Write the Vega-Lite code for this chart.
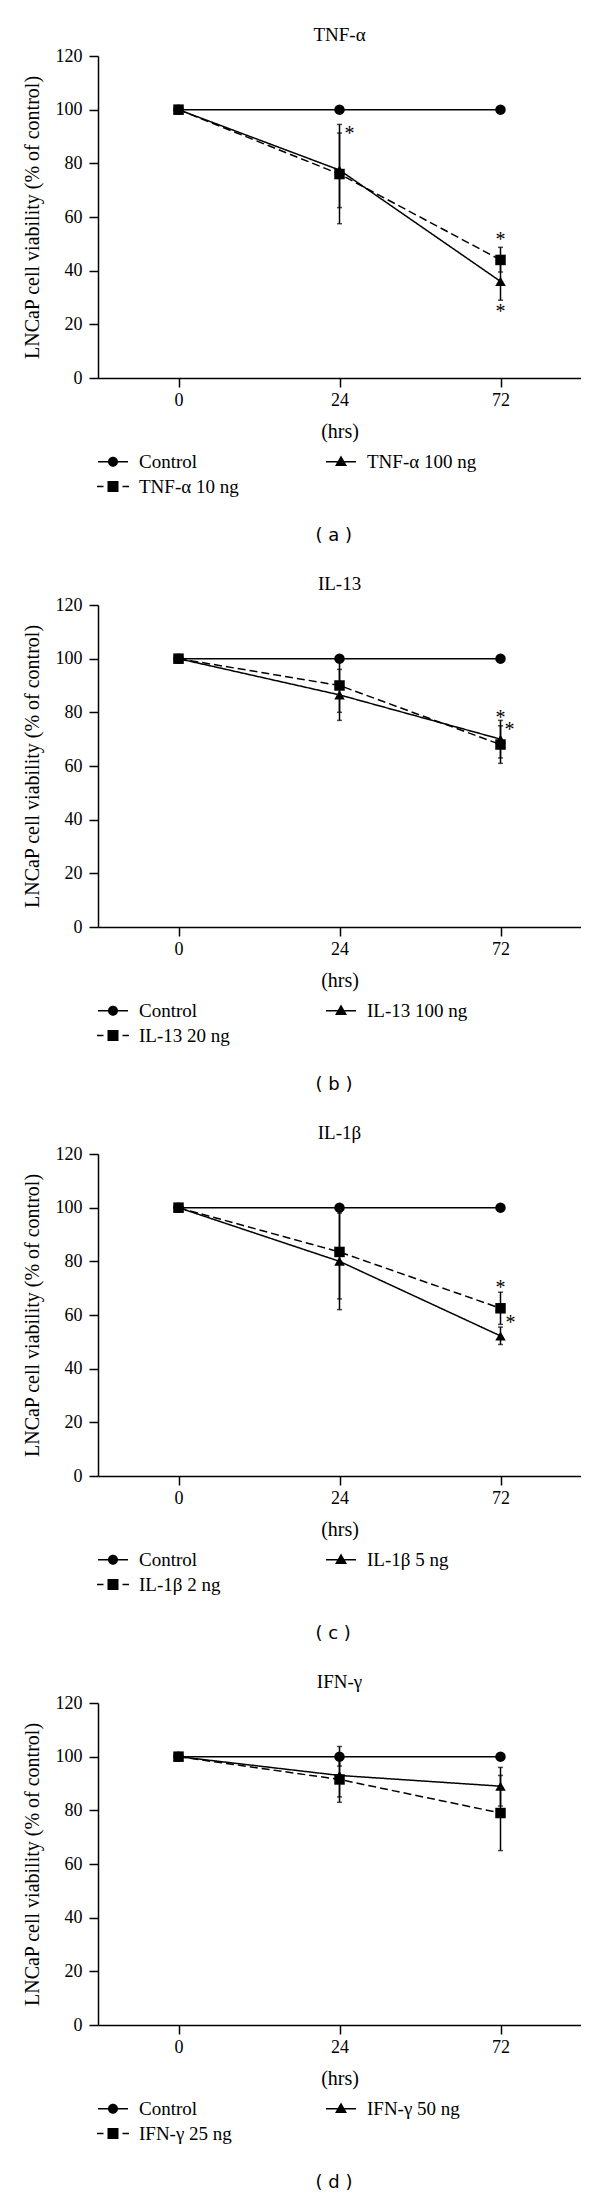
{
  "$schema": "https://vega.github.io/schema/vega-lite/v6.json",
  "background": "white",
  "padding": {"left": 22, "top": 26, "right": 0, "bottom": 0},
  "datasets": {
    "pts": [
      {"panel": "a", "time": "0", "series": "Control", "mean": 100},
      {"panel": "a", "time": "24", "series": "Control", "mean": 100},
      {"panel": "a", "time": "72", "series": "Control", "mean": 100},
      {"panel": "a", "time": "0", "series": "TNF-α 10 ng", "mean": 100},
      {"panel": "a", "time": "24", "series": "TNF-α 10 ng", "mean": 76, "lo": 57.5, "hi": 94.5},
      {"panel": "a", "time": "72", "series": "TNF-α 10 ng", "mean": 44, "lo": 39.5, "hi": 48.7},
      {"panel": "a", "time": "0", "series": "TNF-α 100 ng", "mean": 100},
      {"panel": "a", "time": "24", "series": "TNF-α 100 ng", "mean": 77.5, "lo": 63.5, "hi": 91.3},
      {"panel": "a", "time": "72", "series": "TNF-α 100 ng", "mean": 36, "lo": 29, "hi": 43},
      {"panel": "b", "time": "0", "series": "Control", "mean": 100},
      {"panel": "b", "time": "24", "series": "Control", "mean": 100},
      {"panel": "b", "time": "72", "series": "Control", "mean": 100},
      {"panel": "b", "time": "0", "series": "IL-13 20 ng", "mean": 100},
      {"panel": "b", "time": "24", "series": "IL-13 20 ng", "mean": 90, "lo": 80, "hi": 100},
      {"panel": "b", "time": "72", "series": "IL-13 20 ng", "mean": 68, "lo": 61, "hi": 75},
      {"panel": "b", "time": "0", "series": "IL-13 100 ng", "mean": 100},
      {"panel": "b", "time": "24", "series": "IL-13 100 ng", "mean": 86.5, "lo": 77, "hi": 96},
      {"panel": "b", "time": "72", "series": "IL-13 100 ng", "mean": 70, "lo": 63, "hi": 77},
      {"panel": "c", "time": "0", "series": "Control", "mean": 100},
      {"panel": "c", "time": "24", "series": "Control", "mean": 100},
      {"panel": "c", "time": "72", "series": "Control", "mean": 100},
      {"panel": "c", "time": "0", "series": "IL-1β 2 ng", "mean": 100},
      {"panel": "c", "time": "24", "series": "IL-1β 2 ng", "mean": 83.5, "lo": 66, "hi": 101},
      {"panel": "c", "time": "72", "series": "IL-1β 2 ng", "mean": 62.5, "lo": 56.5, "hi": 68.5},
      {"panel": "c", "time": "0", "series": "IL-1β 5 ng", "mean": 100},
      {"panel": "c", "time": "24", "series": "IL-1β 5 ng", "mean": 80, "lo": 62, "hi": 98},
      {"panel": "c", "time": "72", "series": "IL-1β 5 ng", "mean": 52.2, "lo": 49, "hi": 55.5},
      {"panel": "d", "time": "0", "series": "Control", "mean": 100},
      {"panel": "d", "time": "24", "series": "Control", "mean": 100, "lo": 96.5, "hi": 103.8},
      {"panel": "d", "time": "72", "series": "Control", "mean": 100},
      {"panel": "d", "time": "0", "series": "IFN-γ 25 ng", "mean": 100},
      {"panel": "d", "time": "24", "series": "IFN-γ 25 ng", "mean": 91.5, "lo": 83, "hi": 100},
      {"panel": "d", "time": "72", "series": "IFN-γ 25 ng", "mean": 79, "lo": 65, "hi": 93},
      {"panel": "d", "time": "0", "series": "IFN-γ 50 ng", "mean": 100},
      {"panel": "d", "time": "24", "series": "IFN-γ 50 ng", "mean": 93, "lo": 85, "hi": 101},
      {"panel": "d", "time": "72", "series": "IFN-γ 50 ng", "mean": 89, "lo": 81.6, "hi": 96}
    ],
    "stars": [
      {"panel": "a", "time": "24", "series": "TNF-α 10 ng", "value": 92.5},
      {"panel": "a", "time": "72", "series": "TNF-α 10 ng", "value": 53},
      {"panel": "a", "time": "72", "series": "TNF-α 100 ng", "value": 26},
      {"panel": "b", "time": "72", "series": "IL-13 20 ng", "value": 79.5},
      {"panel": "b", "time": "72", "series": "IL-13 100 ng", "value": 75},
      {"panel": "c", "time": "72", "series": "IL-1β 2 ng", "value": 71.5},
      {"panel": "c", "time": "72", "series": "IL-1β 5 ng", "value": 58.5}
    ]
  },
  "config": {
    "view": {"stroke": null},
    "font": "Liberation Serif",
    "title": {"font": "Liberation Serif", "fontSize": 19, "fontWeight": "normal", "color": "black"},
    "axis": {
      "domainColor": "black", "domainWidth": 1.5, "tickColor": "black", "tickWidth": 1.5, "tickSize": 9,
      "labelColor": "black", "labelFont": "Liberation Serif", "labelFontSize": 18,
      "titleColor": "black", "titleFont": "Liberation Serif", "titleFontSize": 20, "titleFontWeight": "normal",
      "grid": false
    },
    "legend": {"labelFont": "Liberation Serif", "labelFontSize": 19, "labelColor": "black",
      "symbolStrokeColor": "black", "symbolFillColor": "black", "symbolStrokeWidth": 1.5, "symbolOpacity": 1, "symbolSize": 100}
  },
  "spacing": 30,
  "resolve": {"scale": {"shape": "independent", "strokeDash": "independent"}, "legend": {"shape": "independent", "strokeDash": "independent"}},
  "vconcat": [
    {
      "title": {"text": "( a )", "orient": "bottom", "anchor": "middle", "align": "left", "dx": 14, "font": "DejaVu Sans", "fontSize": 18, "offset": 30},
      "resolve": {"scale": {"shape": "independent", "strokeDash": "independent"}, "legend": {"shape": "independent", "strokeDash": "independent"}},
      "vconcat": [
        {
          "width": 483, "height": 322,
          "title": {"text": "TNF-α", "frame": "group", "offset": 2},
          "data": {"name": "pts"},
          "transform": [{"filter": "datum.panel == 'a'"}],
          "encoding": {
            "x": {"field": "time", "type": "ordinal", "sort": ["0", "24", "72"], "scale": {"type": "point", "padding": 0.5},
              "axis": {"title": "(hrs)", "labelAngle": 0, "labelPadding": 4, "titlePadding": 12}}
          },
          "resolve": {"scale": {"shape": "independent"}, "legend": {"shape": "independent"}},
          "layer": [
            {"transform": [{"filter": "isValid(datum.lo)"}], "mark": {"type": "rule", "color": "black", "strokeWidth": 1.5},
              "encoding": {"y": {"field": "lo", "type": "quantitative", "scale": {"domain": [0, 120]}, "title": "LNCaP cell viability (% of  control)",
                "axis": {"values": [0, 20, 40, 60, 80, 100, 120], "labelPadding": 7, "titlePadding": 13}}, "y2": {"field": "hi"}}},
            {"transform": [{"filter": "isValid(datum.lo)"}], "mark": {"type": "tick", "color": "black", "size": 5, "thickness": 1.5},
              "encoding": {"y": {"field": "lo", "type": "quantitative", "title": "LNCaP cell viability (% of  control)"}}},
            {"transform": [{"filter": "isValid(datum.hi)"}], "mark": {"type": "tick", "color": "black", "size": 5, "thickness": 1.5},
              "encoding": {"y": {"field": "hi", "type": "quantitative", "title": "LNCaP cell viability (% of  control)"}}},
            {"mark": {"type": "line", "color": "black", "strokeWidth": 1.5},
              "encoding": {"y": {"field": "mean", "type": "quantitative", "title": "LNCaP cell viability (% of  control)"},
                "strokeDash": {"field": "series", "type": "nominal", "scale": {"domain": ["TNF-α 100 ng", "TNF-α 10 ng", "Control"], "range": [[1, 0], [8, 4], [1, 0]]}, "legend": null}}},
            {"mark": {"type": "point", "filled": true, "color": "black", "opacity": 1, "size": 110},
              "encoding": {"y": {"field": "mean", "type": "quantitative", "title": "LNCaP cell viability (% of  control)"},
                "shape": {"field": "series", "type": "nominal", "scale": {"domain": ["TNF-α 10 ng", "Control", "TNF-α 100 ng"], "range": ["square", "circle", "triangle-up"]}, "legend": null}}},
            {"transform": [{"filter": "false"}], "mark": {"type": "point", "filled": true, "fill": "black", "stroke": "black", "strokeWidth": 1.5, "opacity": 1, "size": 100},
              "encoding": {"y": {"field": "mean", "type": "quantitative", "title": "LNCaP cell viability (% of  control)"},
                "shape": {"field": "series", "type": "nominal",
                  "scale": {"domain": ["Control", "TNF-α 10 ng", "TNF-α 100 ng"], "range": ["M-3,-0.15H-0.9V0.15H-3ZM0.9,-0.15H3V0.15H0.9ZM-1,0A1,1,0,1,1,1,0A1,1,0,1,1,-1,0Z", "M-3.2,-0.15H-1.9V0.15H-3.2ZM1.9,-0.15H3.2V0.15H1.9ZM-1.1,-1.1H1.1V1.1H-1.1Z", "M-3,-0.15H-0.7V0.15H-3ZM0.7,-0.15H3V0.15H0.7ZM0,-1.25L1.2,0.85L-1.2,0.85Z"]},
                  "legend": {"orient": "none", "legendX": 5.5, "legendY": 396, "columns": 2, "columnPadding": 83, "rowPadding": 5, "title": null, "padding": 0,
                    "labelOffset": 16.5, "symbolSize": 100}}}},
            {"data": {"name": "stars"}, "transform": [{"filter": "datum.panel == 'a' && datum.time == '72'"}],
              "mark": {"type": "text", "text": "*", "fontSize": 20, "font": "Liberation Serif", "color": "black", "baseline": "middle", "dy": 4},
              "encoding": {"y": {"field": "value", "type": "quantitative", "title": "LNCaP cell viability (% of  control)"}}},
            {"data": {"name": "stars"}, "transform": [{"filter": "datum.panel == 'a' && datum.time == '24'"}],
              "mark": {"type": "text", "text": "*", "fontSize": 20, "font": "Liberation Serif", "color": "black", "baseline": "middle", "dy": 4, "dx": 10},
              "encoding": {"y": {"field": "value", "type": "quantitative", "title": "LNCaP cell viability (% of  control)"}}}
          ]
        }
      ]
    },
    {
      "title": {"text": "( b )", "orient": "bottom", "anchor": "middle", "align": "left", "dx": 14, "font": "DejaVu Sans", "fontSize": 18, "offset": 30},
      "resolve": {"scale": {"shape": "independent", "strokeDash": "independent"}, "legend": {"shape": "independent", "strokeDash": "independent"}},
      "vconcat": [
        {
          "width": 483, "height": 322,
          "title": {"text": "IL-13", "frame": "group", "offset": 2},
          "data": {"name": "pts"},
          "transform": [{"filter": "datum.panel == 'b'"}],
          "encoding": {
            "x": {"field": "time", "type": "ordinal", "sort": ["0", "24", "72"], "scale": {"type": "point", "padding": 0.5},
              "axis": {"title": "(hrs)", "labelAngle": 0, "labelPadding": 4, "titlePadding": 12}}
          },
          "resolve": {"scale": {"shape": "independent"}, "legend": {"shape": "independent"}},
          "layer": [
            {"transform": [{"filter": "isValid(datum.lo)"}], "mark": {"type": "rule", "color": "black", "strokeWidth": 1.5},
              "encoding": {"y": {"field": "lo", "type": "quantitative", "scale": {"domain": [0, 120]}, "title": "LNCaP cell viability (% of  control)",
                "axis": {"values": [0, 20, 40, 60, 80, 100, 120], "labelPadding": 7, "titlePadding": 13}}, "y2": {"field": "hi"}}},
            {"transform": [{"filter": "isValid(datum.lo)"}], "mark": {"type": "tick", "color": "black", "size": 5, "thickness": 1.5},
              "encoding": {"y": {"field": "lo", "type": "quantitative", "title": "LNCaP cell viability (% of  control)"}}},
            {"transform": [{"filter": "isValid(datum.hi)"}], "mark": {"type": "tick", "color": "black", "size": 5, "thickness": 1.5},
              "encoding": {"y": {"field": "hi", "type": "quantitative", "title": "LNCaP cell viability (% of  control)"}}},
            {"mark": {"type": "line", "color": "black", "strokeWidth": 1.5},
              "encoding": {"y": {"field": "mean", "type": "quantitative", "title": "LNCaP cell viability (% of  control)"},
                "strokeDash": {"field": "series", "type": "nominal", "scale": {"domain": ["IL-13 100 ng", "IL-13 20 ng", "Control"], "range": [[1, 0], [8, 4], [1, 0]]}, "legend": null}}},
            {"mark": {"type": "point", "filled": true, "color": "black", "opacity": 1, "size": 110},
              "encoding": {"y": {"field": "mean", "type": "quantitative", "title": "LNCaP cell viability (% of  control)"},
                "shape": {"field": "series", "type": "nominal", "scale": {"domain": ["IL-13 20 ng", "Control", "IL-13 100 ng"], "range": ["square", "circle", "triangle-up"]}, "legend": null}}},
            {"transform": [{"filter": "false"}], "mark": {"type": "point", "filled": true, "fill": "black", "stroke": "black", "strokeWidth": 1.5, "opacity": 1, "size": 100},
              "encoding": {"y": {"field": "mean", "type": "quantitative", "title": "LNCaP cell viability (% of  control)"},
                "shape": {"field": "series", "type": "nominal",
                  "scale": {"domain": ["Control", "IL-13 20 ng", "IL-13 100 ng"], "range": ["M-3,-0.15H-0.9V0.15H-3ZM0.9,-0.15H3V0.15H0.9ZM-1,0A1,1,0,1,1,1,0A1,1,0,1,1,-1,0Z", "M-3.2,-0.15H-1.9V0.15H-3.2ZM1.9,-0.15H3.2V0.15H1.9ZM-1.1,-1.1H1.1V1.1H-1.1Z", "M-3,-0.15H-0.7V0.15H-3ZM0.7,-0.15H3V0.15H0.7ZM0,-1.25L1.2,0.85L-1.2,0.85Z"]},
                  "legend": {"orient": "none", "legendX": 5.5, "legendY": 396, "columns": 2, "columnPadding": 92, "rowPadding": 5, "title": null, "padding": 0,
                    "labelOffset": 16.5, "symbolSize": 100}}}},
            {"data": {"name": "stars"}, "transform": [{"filter": "datum.panel == 'b' && datum.series == 'IL-13 20 ng'"}],
              "mark": {"type": "text", "text": "*", "fontSize": 20, "font": "Liberation Serif", "color": "black", "baseline": "middle", "dy": 4},
              "encoding": {"y": {"field": "value", "type": "quantitative", "title": "LNCaP cell viability (% of  control)"}}},
            {"data": {"name": "stars"}, "transform": [{"filter": "datum.panel == 'b' && datum.series == 'IL-13 100 ng'"}],
              "mark": {"type": "text", "text": "*", "fontSize": 20, "font": "Liberation Serif", "color": "black", "baseline": "middle", "dy": 4, "dx": 9},
              "encoding": {"y": {"field": "value", "type": "quantitative", "title": "LNCaP cell viability (% of  control)"}}}
          ]
        }
      ]
    },
    {
      "title": {"text": "( c )", "orient": "bottom", "anchor": "middle", "align": "left", "dx": 14, "font": "DejaVu Sans", "fontSize": 18, "offset": 30},
      "resolve": {"scale": {"shape": "independent", "strokeDash": "independent"}, "legend": {"shape": "independent", "strokeDash": "independent"}},
      "vconcat": [
        {
          "width": 483, "height": 322,
          "title": {"text": "IL-1β", "frame": "group", "offset": 2},
          "data": {"name": "pts"},
          "transform": [{"filter": "datum.panel == 'c'"}],
          "encoding": {
            "x": {"field": "time", "type": "ordinal", "sort": ["0", "24", "72"], "scale": {"type": "point", "padding": 0.5},
              "axis": {"title": "(hrs)", "labelAngle": 0, "labelPadding": 4, "titlePadding": 12}}
          },
          "resolve": {"scale": {"shape": "independent"}, "legend": {"shape": "independent"}},
          "layer": [
            {"transform": [{"filter": "isValid(datum.lo)"}], "mark": {"type": "rule", "color": "black", "strokeWidth": 1.5},
              "encoding": {"y": {"field": "lo", "type": "quantitative", "scale": {"domain": [0, 120]}, "title": "LNCaP cell viability (% of  control)",
                "axis": {"values": [0, 20, 40, 60, 80, 100, 120], "labelPadding": 7, "titlePadding": 13}}, "y2": {"field": "hi"}}},
            {"transform": [{"filter": "isValid(datum.lo)"}], "mark": {"type": "tick", "color": "black", "size": 5, "thickness": 1.5},
              "encoding": {"y": {"field": "lo", "type": "quantitative", "title": "LNCaP cell viability (% of  control)"}}},
            {"transform": [{"filter": "isValid(datum.hi)"}], "mark": {"type": "tick", "color": "black", "size": 5, "thickness": 1.5},
              "encoding": {"y": {"field": "hi", "type": "quantitative", "title": "LNCaP cell viability (% of  control)"}}},
            {"mark": {"type": "line", "color": "black", "strokeWidth": 1.5},
              "encoding": {"y": {"field": "mean", "type": "quantitative", "title": "LNCaP cell viability (% of  control)"},
                "strokeDash": {"field": "series", "type": "nominal", "scale": {"domain": ["IL-1β 5 ng", "IL-1β 2 ng", "Control"], "range": [[1, 0], [8, 4], [1, 0]]}, "legend": null}}},
            {"mark": {"type": "point", "filled": true, "color": "black", "opacity": 1, "size": 110},
              "encoding": {"y": {"field": "mean", "type": "quantitative", "title": "LNCaP cell viability (% of  control)"},
                "shape": {"field": "series", "type": "nominal", "scale": {"domain": ["IL-1β 2 ng", "Control", "IL-1β 5 ng"], "range": ["square", "circle", "triangle-up"]}, "legend": null}}},
            {"transform": [{"filter": "false"}], "mark": {"type": "point", "filled": true, "fill": "black", "stroke": "black", "strokeWidth": 1.5, "opacity": 1, "size": 100},
              "encoding": {"y": {"field": "mean", "type": "quantitative", "title": "LNCaP cell viability (% of  control)"},
                "shape": {"field": "series", "type": "nominal",
                  "scale": {"domain": ["Control", "IL-1β 2 ng", "IL-1β 5 ng"], "range": ["M-3,-0.15H-0.9V0.15H-3ZM0.9,-0.15H3V0.15H0.9ZM-1,0A1,1,0,1,1,1,0A1,1,0,1,1,-1,0Z", "M-3.2,-0.15H-1.9V0.15H-3.2ZM1.9,-0.15H3.2V0.15H1.9ZM-1.1,-1.1H1.1V1.1H-1.1Z", "M-3,-0.15H-0.7V0.15H-3ZM0.7,-0.15H3V0.15H0.7ZM0,-1.25L1.2,0.85L-1.2,0.85Z"]},
                  "legend": {"orient": "none", "legendX": 5.5, "legendY": 396, "columns": 2, "columnPadding": 102, "rowPadding": 5, "title": null, "padding": 0,
                    "labelOffset": 16.5, "symbolSize": 100}}}},
            {"data": {"name": "stars"}, "transform": [{"filter": "datum.panel == 'c' && datum.series == 'IL-1β 2 ng'"}],
              "mark": {"type": "text", "text": "*", "fontSize": 20, "font": "Liberation Serif", "color": "black", "baseline": "middle", "dy": 4},
              "encoding": {"y": {"field": "value", "type": "quantitative", "title": "LNCaP cell viability (% of  control)"}}},
            {"data": {"name": "stars"}, "transform": [{"filter": "datum.panel == 'c' && datum.series == 'IL-1β 5 ng'"}],
              "mark": {"type": "text", "text": "*", "fontSize": 20, "font": "Liberation Serif", "color": "black", "baseline": "middle", "dy": 4, "dx": 10},
              "encoding": {"y": {"field": "value", "type": "quantitative", "title": "LNCaP cell viability (% of  control)"}}}
          ]
        }
      ]
    },
    {
      "title": {"text": "( d )", "orient": "bottom", "anchor": "middle", "align": "left", "dx": 14, "font": "DejaVu Sans", "fontSize": 18, "offset": 30},
      "resolve": {"scale": {"shape": "independent", "strokeDash": "independent"}, "legend": {"shape": "independent", "strokeDash": "independent"}},
      "vconcat": [
        {
          "width": 483, "height": 322,
          "title": {"text": "IFN-γ", "frame": "group", "offset": 2},
          "data": {"name": "pts"},
          "transform": [{"filter": "datum.panel == 'd'"}],
          "encoding": {
            "x": {"field": "time", "type": "ordinal", "sort": ["0", "24", "72"], "scale": {"type": "point", "padding": 0.5},
              "axis": {"title": "(hrs)", "labelAngle": 0, "labelPadding": 4, "titlePadding": 12}}
          },
          "resolve": {"scale": {"shape": "independent"}, "legend": {"shape": "independent"}},
          "layer": [
            {"transform": [{"filter": "isValid(datum.lo)"}], "mark": {"type": "rule", "color": "black", "strokeWidth": 1.5},
              "encoding": {"y": {"field": "lo", "type": "quantitative", "scale": {"domain": [0, 120]}, "title": "LNCaP cell viability (% of  control)",
                "axis": {"values": [0, 20, 40, 60, 80, 100, 120], "labelPadding": 7, "titlePadding": 13}}, "y2": {"field": "hi"}}},
            {"transform": [{"filter": "isValid(datum.lo)"}], "mark": {"type": "tick", "color": "black", "size": 5, "thickness": 1.5},
              "encoding": {"y": {"field": "lo", "type": "quantitative", "title": "LNCaP cell viability (% of  control)"}}},
            {"transform": [{"filter": "isValid(datum.hi)"}], "mark": {"type": "tick", "color": "black", "size": 5, "thickness": 1.5},
              "encoding": {"y": {"field": "hi", "type": "quantitative", "title": "LNCaP cell viability (% of  control)"}}},
            {"mark": {"type": "line", "color": "black", "strokeWidth": 1.5},
              "encoding": {"y": {"field": "mean", "type": "quantitative", "title": "LNCaP cell viability (% of  control)"},
                "strokeDash": {"field": "series", "type": "nominal", "scale": {"domain": ["IFN-γ 50 ng", "IFN-γ 25 ng", "Control"], "range": [[1, 0], [8, 4], [1, 0]]}, "legend": null}}},
            {"mark": {"type": "point", "filled": true, "color": "black", "opacity": 1, "size": 110},
              "encoding": {"y": {"field": "mean", "type": "quantitative", "title": "LNCaP cell viability (% of  control)"},
                "shape": {"field": "series", "type": "nominal", "scale": {"domain": ["IFN-γ 25 ng", "Control", "IFN-γ 50 ng"], "range": ["square", "circle", "triangle-up"]}, "legend": null}}},
            {"transform": [{"filter": "false"}], "mark": {"type": "point", "filled": true, "fill": "black", "stroke": "black", "strokeWidth": 1.5, "opacity": 1, "size": 100},
              "encoding": {"y": {"field": "mean", "type": "quantitative", "title": "LNCaP cell viability (% of  control)"},
                "shape": {"field": "series", "type": "nominal",
                  "scale": {"domain": ["Control", "IFN-γ 25 ng", "IFN-γ 50 ng"], "range": ["M-3,-0.15H-0.9V0.15H-3ZM0.9,-0.15H3V0.15H0.9ZM-1,0A1,1,0,1,1,1,0A1,1,0,1,1,-1,0Z", "M-3.2,-0.15H-1.9V0.15H-3.2ZM1.9,-0.15H3.2V0.15H1.9ZM-1.1,-1.1H1.1V1.1H-1.1Z", "M-3,-0.15H-0.7V0.15H-3ZM0.7,-0.15H3V0.15H0.7ZM0,-1.25L1.2,0.85L-1.2,0.85Z"]},
                  "legend": {"orient": "none", "legendX": 5.5, "legendY": 396, "columns": 2, "columnPadding": 90, "rowPadding": 5, "title": null, "padding": 0,
                    "labelOffset": 16.5, "symbolSize": 100}}}}
          ]
        }
      ]
    }
  ]
}
